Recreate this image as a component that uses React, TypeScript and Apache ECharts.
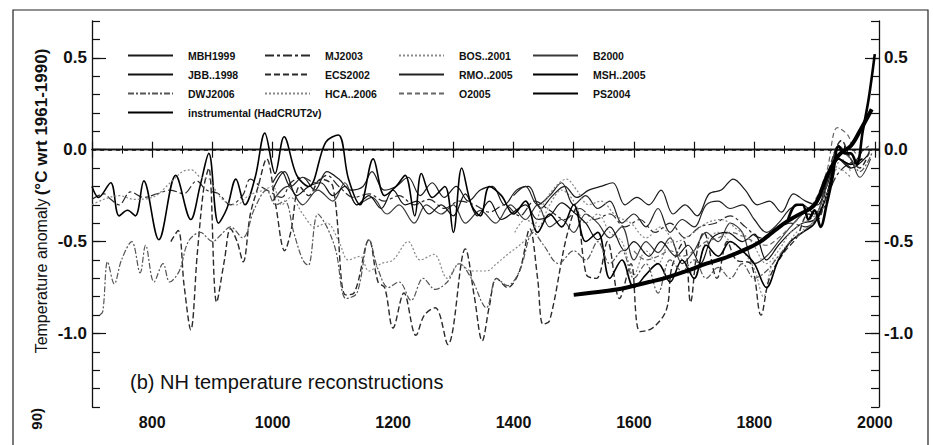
import React, { useEffect, useRef } from "react";
import * as echarts from "echarts";

const FONT = "'Liberation Sans', Arial, Helvetica, sans-serif";

const X_LABELS = [800, 1000, 1200, 1400, 1600, 1800, 2000];
const Y_LABELS = [-1.0, -0.5, 0.0, 0.5];

const MBH1999 = [[1000,-0.18],[1015,-0.12],[1030,-0.2],[1050,-0.15],[1070,-0.22],[1090,-0.12],[1110,-0.16],[1130,-0.22],[1150,-0.2],[1165,-0.12],[1185,-0.22],[1205,-0.2],[1225,-0.15],[1245,-0.25],[1265,-0.18],[1285,-0.26],[1305,-0.2],[1325,-0.28],[1345,-0.22],[1365,-0.2],[1385,-0.3],[1405,-0.22],[1425,-0.2],[1445,-0.32],[1465,-0.25],[1485,-0.2],[1505,-0.26],[1525,-0.22],[1545,-0.2],[1565,-0.18],[1585,-0.3],[1605,-0.26],[1625,-0.3],[1645,-0.22],[1665,-0.35],[1685,-0.3],[1705,-0.36],[1725,-0.24],[1745,-0.22],[1765,-0.16],[1785,-0.22],[1805,-0.3],[1825,-0.28],[1845,-0.34],[1865,-0.24],[1885,-0.28],[1905,-0.3],[1920,-0.18],[1940,-0.05],[1960,-0.08],[1980,0.0]];

const JBB1998 = [[1000,-0.22],[1020,-0.12],[1040,-0.25],[1060,-0.2],[1080,-0.18],[1100,-0.25],[1120,-0.2],[1140,-0.3],[1160,-0.25],[1180,-0.32],[1200,-0.22],[1220,-0.3],[1240,-0.28],[1260,-0.35],[1280,-0.3],[1300,-0.36],[1320,-0.24],[1340,-0.36],[1360,-0.28],[1380,-0.38],[1400,-0.34],[1420,-0.3],[1440,-0.38],[1460,-0.36],[1480,-0.29],[1500,-0.34],[1520,-0.4],[1540,-0.49],[1560,-0.42],[1585,-0.55],[1600,-0.5],[1625,-0.58],[1645,-0.5],[1670,-0.58],[1690,-0.52],[1710,-0.62],[1730,-0.48],[1755,-0.45],[1780,-0.5],[1800,-0.46],[1820,-0.6],[1840,-0.52],[1860,-0.45],[1880,-0.4],[1900,-0.38],[1920,-0.25],[1940,-0.05],[1960,-0.1],[1991,-0.02]];

const B2000 = [[1000,-0.28],[1025,-0.2],[1050,-0.3],[1075,-0.22],[1100,-0.28],[1120,-0.18],[1140,-0.3],[1165,-0.26],[1190,-0.35],[1210,-0.3],[1235,-0.4],[1255,-0.3],[1280,-0.35],[1300,-0.3],[1320,-0.4],[1345,-0.33],[1370,-0.4],[1395,-0.3],[1420,-0.38],[1440,-0.3],[1460,-0.42],[1480,-0.38],[1500,-0.45],[1520,-0.35],[1540,-0.4],[1560,-0.48],[1580,-0.42],[1600,-0.6],[1620,-0.5],[1640,-0.56],[1660,-0.48],[1680,-0.62],[1700,-0.55],[1720,-0.45],[1740,-0.5],[1760,-0.4],[1780,-0.45],[1800,-0.62],[1820,-0.58],[1840,-0.5],[1860,-0.42],[1880,-0.35],[1900,-0.3],[1920,-0.2],[1940,0.02],[1960,-0.05],[1975,-0.15],[1993,-0.05]];

const MJ2003 = [[700,-0.27],[720,-0.24],[731,-0.27],[745,-0.3],[764,-0.23],[786,-0.26],[808,-0.24],[830,-0.22],[852,-0.24],[874,-0.17],[890,-0.22],[910,-0.24],[930,-0.3],[950,-0.25],[963,-0.16],[980,-0.2],[996,-0.23],[1015,-0.26],[1030,-0.18],[1050,-0.15],[1070,-0.18],[1090,-0.14],[1110,-0.2],[1135,-0.26],[1160,-0.24],[1185,-0.28],[1210,-0.25],[1235,-0.3],[1260,-0.27],[1285,-0.32],[1310,-0.28],[1335,-0.3],[1360,-0.34],[1385,-0.3],[1410,-0.36],[1435,-0.28],[1460,-0.33],[1485,-0.38],[1510,-0.32],[1535,-0.38],[1560,-0.35],[1585,-0.42],[1610,-0.38],[1635,-0.45],[1660,-0.4],[1685,-0.48],[1710,-0.42],[1735,-0.4],[1760,-0.36],[1785,-0.42],[1810,-0.48],[1835,-0.44],[1860,-0.4],[1885,-0.42],[1910,-0.35],[1935,-0.15],[1955,-0.08],[1980,-0.05]];

const HCA2006 = [[700,-0.3],[720,-0.27],[745,-0.25],[770,-0.27],[800,-0.26],[830,-0.18],[850,-0.12],[865,-0.11],[880,-0.15],[895,-0.16],[905,-0.22],[920,-0.28],[940,-0.3],[960,-0.25],[985,-0.22],[1000,-0.2],[1015,-0.3],[1030,-0.26],[1050,-0.35],[1070,-0.42],[1090,-0.4],[1110,-0.5],[1126,-0.6],[1145,-0.58],[1160,-0.66],[1180,-0.62],[1200,-0.6],[1225,-0.5],[1245,-0.6],[1268,-0.57],[1290,-0.7],[1310,-0.62],[1330,-0.66],[1355,-0.66],[1372,-0.62],[1390,-0.57],[1410,-0.52],[1430,-0.45],[1449,-0.3],[1470,-0.2],[1488,-0.16],[1505,-0.22],[1525,-0.3],[1545,-0.28],[1570,-0.36],[1595,-0.4],[1620,-0.48],[1645,-0.42],[1670,-0.5],[1695,-0.46],[1720,-0.4],[1745,-0.38],[1770,-0.43],[1795,-0.5],[1820,-0.62],[1840,-0.55],[1860,-0.45],[1880,-0.4],[1900,-0.36],[1920,-0.25],[1940,-0.1],[1960,-0.15]];

const DWJ2006 = [[713,-0.9],[718,-0.88],[726,-0.61],[737,-0.73],[749,-0.6],[766,-0.5],[780,-0.67],[789,-0.52],[803,-0.72],[818,-0.62],[829,-0.72],[845,-0.66],[860,-0.5],[880,-0.45],[900,-0.5],[915,-0.46],[930,-0.42],[950,-0.48],[970,-0.32],[990,-0.22],[1005,-0.3],[1020,-0.28],[1035,-0.45],[1050,-0.6],[1059,-0.63],[1075,-0.35],[1090,-0.42],[1105,-0.55],[1122,-0.81],[1140,-0.78],[1160,-0.49],[1175,-0.65],[1192,-0.75],[1210,-0.72],[1230,-0.82],[1250,-0.7],[1270,-0.76],[1290,-0.72],[1310,-0.62],[1330,-0.7],[1355,-0.86],[1372,-0.7],[1390,-0.74],[1410,-0.66],[1433,-0.45],[1450,-0.52],[1475,-0.62],[1500,-0.55],[1520,-0.6],[1540,-0.5],[1560,-0.62],[1580,-0.55],[1600,-0.7],[1620,-0.62],[1640,-0.78],[1660,-0.6],[1680,-0.66],[1700,-0.6],[1720,-0.7],[1740,-0.64],[1760,-0.7],[1780,-0.62],[1800,-0.7],[1820,-0.66],[1840,-0.58],[1860,-0.5],[1880,-0.45],[1900,-0.38],[1920,-0.2],[1940,0.0],[1960,-0.05],[1975,-0.12],[1995,-0.02]];

const ECS2002 = [[831,-0.5],[843,-0.44],[853,-0.74],[864,-0.98],[875,-0.56],[886,-0.2],[894,-0.1],[907,-0.83],[920,-0.6],[930,-0.43],[941,-0.5],[951,-0.61],[963,-0.35],[976,-0.2],[990,-0.05],[1005,-0.3],[1020,-0.55],[1030,-0.45],[1045,-0.2],[1060,-0.25],[1080,-0.16],[1100,-0.2],[1121,-0.79],[1135,-0.78],[1160,-0.49],[1175,-0.72],[1186,-0.75],[1200,-0.97],[1218,-0.78],[1238,-1.01],[1252,-0.9],[1270,-0.86],[1291,-1.06],[1320,-0.54],[1335,-0.8],[1348,-1.04],[1360,-0.85],[1372,-0.7],[1390,-0.75],[1410,-0.66],[1427,-0.43],[1440,-0.7],[1449,-0.95],[1460,-0.93],[1487,-0.49],[1504,-0.32],[1521,-0.68],[1538,-0.7],[1556,-0.5],[1576,-0.81],[1595,-0.62],[1610,-0.99],[1631,-0.97],[1654,-0.87],[1663,-0.64],[1683,-0.5],[1694,-0.83],[1705,-0.55],[1716,-0.45],[1738,-0.7],[1755,-0.5],[1770,-0.6],[1794,-0.62],[1811,-0.9],[1825,-0.7],[1849,-0.56],[1870,-0.48],[1890,-0.35],[1905,-0.38],[1925,-0.1],[1945,0.05],[1960,-0.05],[1975,-0.1],[1992,0.0]];

const BOS2001 = [[1402,-0.45],[1420,-0.38],[1440,-0.42],[1460,-0.3],[1480,-0.22],[1500,-0.28],[1520,-0.4],[1540,-0.35],[1560,-0.45],[1580,-0.5],[1600,-0.68],[1620,-0.55],[1640,-0.62],[1660,-0.5],[1680,-0.6],[1700,-0.68],[1720,-0.5],[1740,-0.45],[1760,-0.5],[1780,-0.55],[1800,-0.65],[1815,-0.8],[1830,-0.62],[1850,-0.55],[1870,-0.45],[1890,-0.42],[1910,-0.32],[1930,-0.15],[1945,-0.05],[1960,-0.12]];

const RMO2005 = [[1400,-0.25],[1420,-0.2],[1440,-0.3],[1460,-0.25],[1480,-0.18],[1500,-0.3],[1520,-0.25],[1540,-0.32],[1560,-0.28],[1580,-0.4],[1600,-0.35],[1620,-0.42],[1640,-0.32],[1660,-0.45],[1680,-0.38],[1700,-0.42],[1720,-0.3],[1740,-0.28],[1760,-0.32],[1780,-0.3],[1800,-0.38],[1820,-0.45],[1840,-0.4],[1860,-0.32],[1880,-0.3],[1900,-0.35],[1920,-0.2],[1940,-0.05],[1960,-0.1]];

const O2005 = [[1600,-0.55],[1620,-0.6],[1640,-0.58],[1660,-0.55],[1680,-0.58],[1700,-0.55],[1720,-0.5],[1740,-0.48],[1760,-0.45],[1780,-0.47],[1800,-0.5],[1820,-0.52],[1840,-0.48],[1860,-0.42],[1880,-0.35],[1900,-0.28],[1920,-0.12],[1938,0.12],[1955,0.08],[1970,-0.02],[1990,0.02]];

const MSH2005 = [[700,-0.2],[711,-0.26],[731,-0.18],[745,-0.36],[759,-0.33],[772,-0.36],[786,-0.17],[811,-0.49],[839,-0.14],[864,-0.38],[880,-0.19],[894,-0.02],[910,-0.4],[924,-0.32],[939,-0.16],[954,-0.3],[971,-0.15],[987,0.09],[1004,-0.13],[1019,0.07],[1040,-0.14],[1060,-0.2],[1088,0.04],[1109,0.08],[1126,-0.16],[1145,-0.3],[1167,-0.05],[1186,-0.25],[1205,-0.2],[1220,-0.14],[1236,-0.36],[1247,-0.13],[1265,-0.26],[1286,-0.2],[1300,-0.45],[1314,-0.1],[1330,-0.3],[1345,-0.36],[1360,-0.2],[1380,-0.25],[1400,-0.35],[1420,-0.28],[1440,-0.45],[1460,-0.35],[1480,-0.42],[1500,-0.3],[1520,-0.5],[1540,-0.45],[1560,-0.7],[1580,-0.6],[1600,-0.75],[1620,-0.68],[1640,-0.62],[1660,-0.72],[1680,-0.6],[1700,-0.7],[1720,-0.52],[1740,-0.58],[1760,-0.5],[1780,-0.55],[1800,-0.62],[1820,-0.75],[1840,-0.6],[1860,-0.5],[1880,-0.45],[1900,-0.4],[1920,-0.25],[1940,-0.05],[1960,-0.08],[1979,-0.05]];

const PS2004 = [[1500,-0.79],[1550,-0.77],[1581,-0.755],[1625,-0.72],[1650,-0.7],[1688,-0.66],[1720,-0.62],[1750,-0.59],[1787,-0.54],[1810,-0.5],[1830,-0.45],[1850,-0.4],[1870,-0.36],[1900,-0.3],[1920,-0.15],[1940,-0.03],[1960,0.02],[1975,0.1],[1995,0.22]];

const INSTRUMENTAL = [[1856,-0.38],[1870,-0.3],[1880,-0.3],[1890,-0.38],[1900,-0.33],[1910,-0.42],[1920,-0.3],[1930,-0.15],[1940,0.02],[1950,-0.02],[1960,-0.02],[1970,-0.08],[1980,0.1],[1990,0.28],[2000,0.52]];

const SERIES_DEFS: any[] = [
  { name: "MBH1999", data: MBH1999, color: "#1a1a1a", width: 1.2, type: "solid" },
  { name: "MJ2003", data: MJ2003, color: "#2a2a2a", width: 1.2, type: [9, 3, 3, 3] },
  { name: "BOS..2001", data: BOS2001, color: "#8a8a8a", width: 1.2, type: [2, 2] },
  { name: "B2000", data: B2000, color: "#3a3a3a", width: 1.2, type: "solid" },
  { name: "JBB..1998", data: JBB1998, color: "#111", width: 1.2, type: "solid" },
  { name: "ECS2002", data: ECS2002, color: "#2a2a2a", width: 1.4, type: [6, 3] },
  { name: "RMO..2005", data: RMO2005, color: "#222", width: 1.2, type: "solid" },
  { name: "MSH..2005", data: MSH2005, color: "#000", width: 1.6, type: "solid" },
  { name: "DWJ2006", data: DWJ2006, color: "#555", width: 1.2, type: [6, 2, 2, 2] },
  { name: "HCA..2006", data: HCA2006, color: "#888", width: 1.2, type: [2, 2] },
  { name: "O2005", data: O2005, color: "#666", width: 1.2, type: [5, 3] },
  { name: "PS2004", data: PS2004, color: "#000", width: 4, type: "solid" },
  { name: "instrumental (HadCRUT2v)", data: INSTRUMENTAL, color: "#000", width: 2.6, type: "solid" },
];

const LEGEND_COLS = [
  ["MBH1999", "JBB..1998", "DWJ2006", "instrumental (HadCRUT2v)"],
  ["MJ2003", "ECS2002", "HCA..2006"],
  ["BOS..2001", "RMO..2005", "O2005"],
  ["B2000", "MSH..2005", "PS2004"],
];
const LEGEND_LEFT = [127, 264, 398, 532];

export default function App() {
  const ref = useRef<HTMLDivElement>(null);
  useEffect(() => {
    document.body.style.margin = "0";
    const chart = echarts.init(ref.current!, null, { renderer: "svg" });
    const axisColor = "#111";
    const yCommon = { type: "value", min: -1.4, max: 0.7, splitLine: { show: false } };
    const majorY = (position: string) => ({
      ...yCommon,
      position,
      axisLine: { show: false },
      axisTick: { show: true, inside: true, length: 14, customValues: Y_LABELS, lineStyle: { color: axisColor, width: 1.2 } },
      axisLabel: {
        show: true,
        customValues: Y_LABELS,
        formatter: (v: number) => v.toFixed(1),
        margin: 5,
        fontSize: 17,
        fontWeight: "bold",
        fontFamily: FONT,
        color: axisColor,
      },
    });
    const minorY = (position: string) => ({
      ...yCommon,
      position,
      interval: 0.1,
      axisLine: { show: true, lineStyle: { color: axisColor, width: 1.3 } },
      axisTick: { show: true, inside: true, length: 8, lineStyle: { color: axisColor, width: 1.2 } },
      axisLabel: { show: false },
    });
    const xCommon = (position: string, labels: boolean) => ({
      type: "value",
      min: 700,
      max: 2007,
      interval: 100,
      position,
      splitLine: { show: false },
      axisLine: { show: true, lineStyle: { color: axisColor, width: 1.3 } },
      axisTick: { show: true, inside: true, length: 8, lineStyle: { color: axisColor, width: 1.2 } },
      minorTick: { show: true, splitNumber: 2, length: 4, lineStyle: { color: axisColor, width: 1 } },
      minorSplitLine: { show: false },
      axisLabel: labels
        ? {
            show: true,
            customValues: X_LABELS,
            formatter: (v: number) => String(v),
            margin: 7,
            fontSize: 16,
            fontWeight: "bold",
            fontFamily: FONT,
            color: axisColor,
          }
        : { show: false },
    });

    const series: any[] = SERIES_DEFS.map((d, i) => ({
      name: d.name,
      type: "line",
      data: d.data,
      xAxisIndex: 0,
      yAxisIndex: 0,
      symbol: "none",
      showSymbol: false,
      smooth: 0.35,
      z: d.name === "PS2004" || d.name.startsWith("instrumental") ? 5 : 3,
      lineStyle: { color: d.color, width: d.width, type: d.type },
      itemStyle: { color: d.color },
      ...(i === 0
        ? {
            markLine: {
              silent: true,
              symbol: "none",
              label: { show: false },
              lineStyle: { color: "#111", type: [4, 4], width: 1.5 },
              data: [{ yAxis: 0 }],
            },
          }
        : {}),
    }));

    chart.setOption({
      animation: false,
      grid: { left: 92, right: 54, top: 21, bottom: 38, containLabel: false },
      xAxis: [xCommon("bottom", true), xCommon("top", false)],
      yAxis: [minorY("left"), majorY("left"), minorY("right"), majorY("right")],
      legend: LEGEND_COLS.map((col, i) => ({
        orient: "vertical",
        left: LEGEND_LEFT[i],
        top: 50,
        padding: 0,
        itemWidth: 45,
        itemHeight: 14,
        itemGap: 7.8,
        selectedMode: false,
        data: col,
        itemStyle: { color: "transparent", borderColor: "transparent", borderWidth: 0 },
        textStyle: { fontSize: 10.5, fontWeight: "bold", fontFamily: FONT, color: "#111", padding: [0, 0, 0, 10] },
      })),
      graphic: [
        {
          type: "rect",
          silent: true,
          shape: { x: 13, y: 10, width: 915, height: 460 },
          style: { fill: "none", stroke: "#222", lineWidth: 1.2 },
        },
        {
          type: "text",
          x: 41,
          y: 201,
          rotation: Math.PI / 2,
          silent: true,
          style: {
            text: "{a|Temperature anomaly} {b|(°C wrt 1961-1990)}",
            textAlign: "center",
            textVerticalAlign: "middle",
            fill: "#111",
            rich: {
              a: { fontSize: 16, fontFamily: FONT, fill: "#111" },
              b: { fontSize: 17, fontWeight: "bold", fontFamily: FONT, fill: "#111" },
            },
          },
        },
        {
          type: "text",
          x: 36,
          y: 408,
          rotation: Math.PI / 2,
          silent: true,
          style: {
            text: "90)",
            textAlign: "right",
            textVerticalAlign: "middle",
            fill: "#111",
            font: `bold 15px ${FONT}`,
          },
        },
        {
          type: "text",
          x: 130,
          y: 382,
          silent: true,
          style: {
            text: "(b) NH temperature reconstructions",
            textAlign: "left",
            textVerticalAlign: "middle",
            fill: "#111",
            font: `20px ${FONT}`,
          },
        },
      ],
      series,
    });
    return () => chart.dispose();
  }, []);
  return <div ref={ref} style={{ width: 933, height: 445 }} />;
}
